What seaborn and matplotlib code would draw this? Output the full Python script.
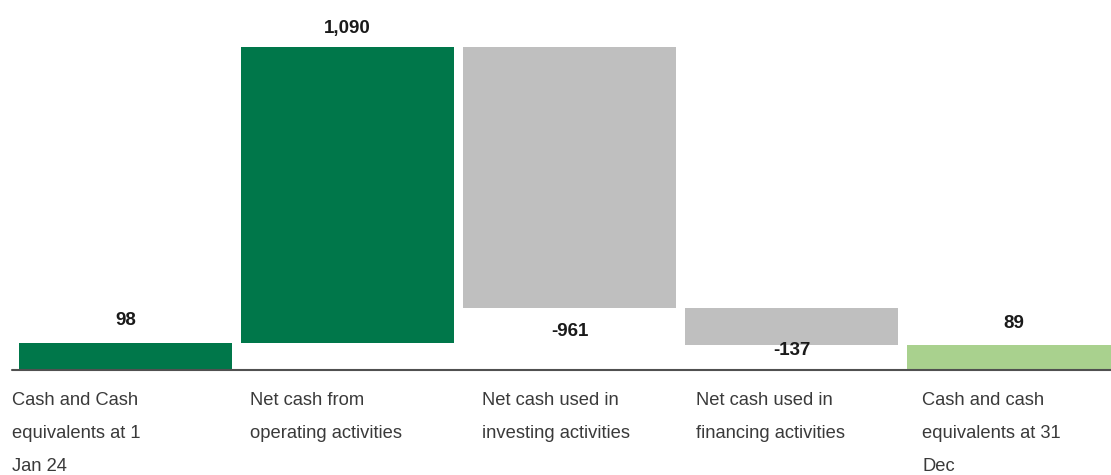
import matplotlib
matplotlib.use("Agg")
import matplotlib.pyplot as plt
import seaborn as sns
import numpy as np
import pandas as pd

# ---- data ----
categories = [
    "Cash and Cash\nequivalents at 1\nJan 24",
    "Net cash from\noperating activities",
    "Net cash used in\ninvesting activities",
    "Net cash used in\nfinancing activities",
    "Cash and cash\nequivalents at 31\nDec",
]
values = [98, 1090, -961, -137, 89]
value_labels = ["98", "1,090", "-961", "-137", "89"]
kinds = ["total", "delta", "delta", "delta", "total"]

# ---- styles ----
colors = ["#00774A", "#00774A", "#BFBFBF", "#BFBFBF", "#A9D18E"]
label_offsets_px = [22, 18.5, -24, -5.5, 22]   # value label offset from bar end
cat_x_offsets_px = [-113, -97, -87, -95, -91]  # category label left edge vs bar center

# waterfall geometry from data
bottoms, heights = [], []
running = 0
for v, k in zip(values, kinds):
    if k == "total":
        bottoms.append(0)
        heights.append(v)
        running = v
    else:
        if v >= 0:
            bottoms.append(running)
            heights.append(v)
        else:
            bottoms.append(running + v)
            heights.append(-v)
        running += v

df = pd.DataFrame({"cat": categories, "height": heights})

W, H = 1111, 475
dpi = 100
fig = plt.figure(figsize=(W / dpi, H / dpi), dpi=dpi)
sns.set_style("white")
plt.rcParams["font.family"] = ["Liberation Sans", "DejaVu Sans"]

base_px = 369.5
ax_left, ax_right = 12 / W, 1.0
ax_bottom = 1 - base_px / H
ax = fig.add_axes([ax_left, ax_bottom, ax_right - ax_left, base_px / H])

sns.barplot(data=df, x="cat", y="height", order=categories, bottom=bottoms,
            color=colors[0], width=0.96, errorbar=None, ax=ax, linewidth=0,
            saturation=1)
for p, c in zip(ax.patches, colors):
    p.set_facecolor(c)
    p.set_edgecolor(c)

px_per_unit = 323 / 1188
ax.set_ylim(0, base_px / px_per_unit)
ax.set_xlim((12 - 125.5) / 222, (1111 - 125.5) / 222)

ax.axhline(0, color="#505050", lw=1.5, clip_on=False, zorder=5)

for s in ax.spines.values():
    s.set_visible(False)
ax.set_xticks([])
ax.set_yticks([])
ax.set_xlabel("")
ax.set_ylabel("")

for i, (v, b, h, lab) in enumerate(zip(values, bottoms, heights, value_labels)):
    off = label_offsets_px[i]
    yref = b + h if off > 0 else b
    ax.annotate(lab, xy=(i, yref), xytext=(0, off * 72 / dpi), textcoords="offset points",
                ha="center", va="center", fontsize=13.5, fontweight="bold", color="#1a1a1a")

for i, cat in enumerate(categories):
    ax.annotate(cat, xy=(i, 0), xytext=(cat_x_offsets_px[i] * 72 / dpi, -22.5 * 72 / dpi),
                textcoords="offset points", ha="left", va="top", fontsize=13.2,
                color="#3a3a3a", linespacing=2.22, annotation_clip=False)

fig.savefig("out.png", dpi=dpi)
